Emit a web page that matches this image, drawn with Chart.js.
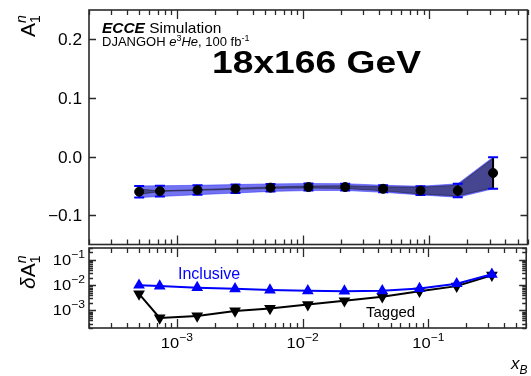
<!DOCTYPE html>
<html>
<head>
<meta charset="utf-8">
<script src="https://cdn.jsdelivr.net/npm/chart.js@4.4.1/dist/chart.umd.min.js"></script>
<style>
  html, body { margin: 0; padding: 0; background: #fff; overflow: hidden; }
  #wrap { position: relative; width: 531px; height: 376px; overflow: hidden; }
  canvas { position: absolute; left: 0; }
  #top { top: 0; width: 533px; height: 250px; }
  #bottom { top: 240px; width: 533px; height: 136px; }
</style>
</head>
<body>
<div id="wrap">
  <canvas id="top" width="533" height="250"></canvas>
  <canvas id="bottom" width="533" height="136"></canvas>
</div>
<script>
// x_B bin centres
const xB = [5.0e-4, 7.3e-4, 1.45e-3, 2.9e-3, 5.5e-3, 1.1e-2, 2.15e-2, 4.3e-2, 8.5e-2, 0.168, 0.32];
// projected A1n values
const asym = [-0.060, -0.059, -0.057, -0.055, -0.053, -0.052, -0.052, -0.055, -0.058, -0.058, -0.028];
// statistical uncertainties
const errInclusive = [0.0100, 0.0092, 0.0080, 0.0072, 0.0064, 0.0060, 0.0058, 0.0060, 0.0074, 0.0115, 0.027];
const errTagged = [0.0045, 0.00050, 0.00060, 0.00095, 0.0012, 0.0017, 0.0024, 0.0035, 0.0058, 0.0092, 0.025];

const asymTicks = [-0.1, 0.0, 0.1, 0.2];
const asymTickLabels = ['\u22120.1', '0.0', '0.1', '0.2'];
const errTicks = [1e-3, 1e-2, 1e-1];
const xTicks = [1e-3, 1e-2, 1e-1];

const FONT = '"Liberation Sans", Arial, Helvetica, sans-serif';
const BLUE = '#0000ff';

const pts = vals => xB.map((x, i) => ({ x, y: vals[i] }));
const shifted = (vals, errs, sign) => xB.map((x, i) => ({ x, y: vals[i] + sign * errs[i] }));

// draws a run of text pieces (sub/superscripts, italics) from one anchor
function richText(ctx, segs, x, y, { align = 'left', stretch = 1, color = '#000', angle = 0 } = {}) {
  const fontOf = s => `${s.italic ? 'italic ' : ''}${s.bold ? 'bold ' : ''}${s.size}px ${FONT}`;
  ctx.save();
  ctx.translate(x, y);
  if (angle) ctx.rotate(angle);
  ctx.scale(stretch, 1);
  ctx.fillStyle = color;
  ctx.textBaseline = 'alphabetic';
  ctx.textAlign = 'left';
  const widths = segs.map(s => { ctx.font = fontOf(s); return ctx.measureText(s.t).width; });
  const total = segs.reduce((sum, s, i) => sum + (s.hold ? 0 : widths[i]), 0);
  let cx = align === 'center' ? -total / 2 : align === 'right' ? -total : 0;
  segs.forEach((s, i) => {
    ctx.font = fontOf(s);
    ctx.fillText(s.t, cx, s.dy || 0);
    if (!s.hold) cx += widths[i];
  });
  ctx.restore();
}

const powerLabel = v => [
  { t: '10', size: 15 },
  { t: '\u2212' + Math.round(-Math.log10(v)), size: 11, dy: -7 },
];

function logValues(min, max) {
  const out = [];
  for (let d = Math.floor(Math.log10(min)); d <= Math.ceil(Math.log10(max)); d++) {
    for (let k = 1; k <= 9; k++) {
      const v = k * Math.pow(10, d);
      if (v >= min * 0.999 && v <= max * 1.001) out.push({ v, major: k === 1 });
    }
  }
  return out;
}

// frame with inward ticks on all four sides
function drawFrame(chart, yMarks) {
  const { ctx, chartArea: a, scales: { x, y } } = chart;
  ctx.save();
  ctx.strokeStyle = '#2a2a2a';
  ctx.lineWidth = 1.3;
  ctx.beginPath();
  logValues(x.min, x.max).forEach(({ v, major }) => {
    const px = Math.round(x.getPixelForValue(v)) + 0.5;
    const len = major ? 9 : 5;
    ctx.moveTo(px, a.top); ctx.lineTo(px, a.top + len);
    ctx.moveTo(px, a.bottom); ctx.lineTo(px, a.bottom - len);
  });
  yMarks.forEach(({ v, major }) => {
    const py = Math.round(y.getPixelForValue(v)) + 0.5;
    const len = major ? 7 : 4;
    ctx.moveTo(a.left, py); ctx.lineTo(a.left + len, py);
    ctx.moveTo(a.right, py); ctx.lineTo(a.right - len, py);
  });
  ctx.stroke();
  ctx.lineWidth = 1.6;
  ctx.strokeRect(a.left, a.top, a.right - a.left, a.bottom - a.top);
  ctx.restore();
}

const errorBars = {
  id: 'errorBars',
  beforeDatasetDraw(chart, args) {
    if (args.index !== 0) return;
    const { ctx, scales: { x, y } } = chart;
    ctx.save();
    xB.forEach((v, i) => {
      const px = x.getPixelForValue(v);
      const lo = y.getPixelForValue(asym[i] - errInclusive[i]);
      const hi = y.getPixelForValue(asym[i] + errInclusive[i]);
      ctx.strokeStyle = BLUE;
      ctx.lineWidth = 1.5;
      ctx.beginPath();
      ctx.moveTo(px, lo); ctx.lineTo(px, hi);
      ctx.stroke();
      ctx.lineWidth = 2;
      ctx.beginPath();
      ctx.moveTo(px - 5, lo); ctx.lineTo(px + 5, lo);
      ctx.moveTo(px - 5, hi); ctx.lineTo(px + 5, hi);
      ctx.stroke();
      ctx.strokeStyle = '#000';
      ctx.lineWidth = 2;
      ctx.beginPath();
      ctx.moveTo(px, y.getPixelForValue(asym[i] - errTagged[i]));
      ctx.lineTo(px, y.getPixelForValue(asym[i] + errTagged[i]));
      ctx.stroke();
    });
    ctx.restore();
  },
};

const topDecor = {
  id: 'topDecor',
  afterDraw(chart) {
    const { ctx, scales: { y } } = chart;
    drawFrame(chart, asymTicks.map(v => ({ v, major: true })));
    asymTicks.forEach((v, i) => {
      richText(ctx, [{ t: asymTickLabels[i], size: 16 }], 82, y.getPixelForValue(v) + 6, { align: 'right', stretch: 1.08 });
    });
    richText(ctx, [
      { t: 'A', size: 21 },
      { t: 'n', size: 14, italic: true, dy: -9, hold: true },
      { t: '1', size: 14, dy: 5 },
    ], 35, 37, { angle: -Math.PI / 2 });
    richText(ctx, [
      { t: 'ECCE', size: 15, bold: true, italic: true },
      { t: ' Simulation', size: 15 },
    ], 102, 33, { stretch: 1.03 });
    richText(ctx, [
      { t: 'DJANGOH ', size: 13 },
      { t: 'e', size: 13, italic: true },
      { t: '3', size: 9, dy: -5 },
      { t: 'He', size: 13, italic: true },
      { t: ', 100 fb', size: 13 },
      { t: '-1', size: 9, dy: -5 },
    ], 102, 46);
    richText(ctx, [{ t: '18x166 GeV', size: 31, bold: true }], 316.5, 73, { align: 'center', stretch: 1.2 });
  },
};

const bottomDecor = {
  id: 'bottomDecor',
  afterDraw(chart) {
    const { ctx, chartArea: a, scales: { x, y } } = chart;
    drawFrame(chart, logValues(y.min, y.max));
    errTicks.forEach(v => {
      richText(ctx, powerLabel(v), 85, y.getPixelForValue(v) + 5, { align: 'right', stretch: 1.1 });
    });
    xTicks.forEach(v => {
      richText(ctx, powerLabel(v), x.getPixelForValue(v), a.bottom + 20, { align: 'center', stretch: 1.1 });
    });
    richText(ctx, [
      { t: '\u03b4', size: 21, italic: true },
      { t: 'A', size: 21 },
      { t: 'n', size: 14, italic: true, dy: -9, hold: true },
      { t: '1', size: 14, dy: 5 },
    ], 35, 49, { angle: -Math.PI / 2 });
    richText(ctx, [{ t: 'Inclusive', size: 16 }], 178, 39, { color: BLUE });
    richText(ctx, [{ t: 'Tagged', size: 15 }], 366, 77);
    richText(ctx, [
      { t: 'x', size: 17, italic: true },
      { t: 'B', size: 12, italic: true, dy: 5 },
    ], 511, 129);
  },
};

const common = {
  responsive: false,
  animation: false,
  events: [],
  plugins: { legend: { display: false }, tooltip: { enabled: false } },
};

new Chart(document.getElementById('top'), {
  type: 'line',
  data: {
    datasets: [
      {
        data: pts(asym), showLine: false, order: 0,
        pointStyle: 'circle', pointRadius: 4.5,
        pointBackgroundColor: '#000', pointBorderColor: '#000',
      },
      {
        data: shifted(asym, errInclusive, 1), order: 2, pointRadius: 0,
        borderColor: 'rgba(40,40,255,0.5)', borderWidth: 1, fill: false,
      },
      {
        data: shifted(asym, errInclusive, -1), order: 2, pointRadius: 0,
        borderColor: 'rgba(40,40,255,0.5)', borderWidth: 1,
        fill: '-1', backgroundColor: 'rgba(0,0,230,0.55)',
      },
      {
        data: shifted(asym, errTagged, 1), order: 1, pointRadius: 0,
        borderColor: 'rgba(0,0,0,0.4)', borderWidth: 1, fill: false,
      },
      {
        data: shifted(asym, errTagged, -1), order: 1, pointRadius: 0,
        borderColor: 'rgba(0,0,0,0.4)', borderWidth: 1,
        fill: '-1', backgroundColor: 'rgba(0,0,0,0.4)',
      },
    ],
  },
  options: {
    ...common,
    layout: { padding: { left: 89, right: 1, top: 10, bottom: 2 } },
    scales: {
      x: { type: 'logarithmic', min: 2e-4, max: 0.6, bounds: 'data', display: false },
      y: { type: 'linear', min: -0.15, max: 0.25, display: false },
    },
  },
  plugins: [errorBars, topDecor],
});

new Chart(document.getElementById('bottom'), {
  type: 'line',
  data: {
    datasets: [
      {
        data: pts(errInclusive),
        borderColor: BLUE, borderWidth: 2,
        pointStyle: 'triangle', pointRadius: 4.8,
        pointBackgroundColor: BLUE, pointBorderColor: BLUE,
      },
      {
        data: pts(errTagged),
        borderColor: '#000', borderWidth: 2,
        pointStyle: 'triangle', pointRotation: 180, pointRadius: 4.8,
        pointBackgroundColor: '#000', pointBorderColor: '#000',
      },
    ],
  },
  options: {
    ...common,
    layout: { padding: { left: 89, right: 1, top: 8, bottom: 48 } },
    scales: {
      x: { type: 'logarithmic', min: 2e-4, max: 0.6, bounds: 'data', display: false },
      y: { type: 'logarithmic', min: 2e-4, max: 0.3, bounds: 'data', display: false },
    },
  },
  plugins: [bottomDecor],
});
</script>
</body>
</html>
